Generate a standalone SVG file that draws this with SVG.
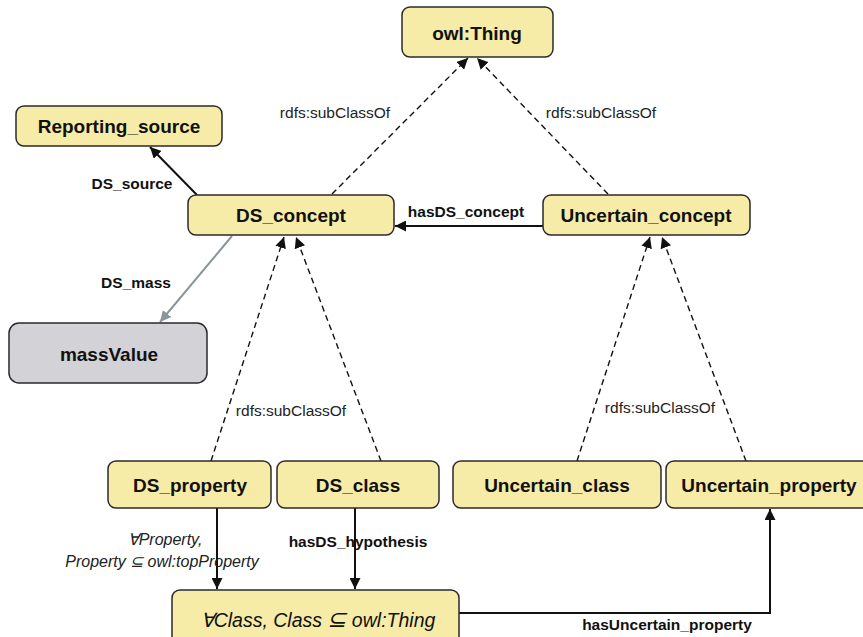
<svg xmlns="http://www.w3.org/2000/svg" width="863" height="637" viewBox="0 0 863 637">
<defs>
<marker id="ah" viewBox="0 0 10 10" refX="10" refY="5" markerWidth="11" markerHeight="11" markerUnits="userSpaceOnUse" orient="auto">
<path d="M0,0 L10,5 L0,10 Z" fill="#111"/>
</marker>
<marker id="ahg" viewBox="0 0 10 10" refX="10" refY="5" markerWidth="11" markerHeight="11" markerUnits="userSpaceOnUse" orient="auto">
<path d="M0,0 L10,5 L0,10 Z" fill="#8a969b"/>
</marker>
<style>
.node rect{fill:#f6eca8;stroke:#2a2a2a;stroke-width:1.5}
.node.gray rect{fill:#d2d2d7}
.nl{font-family:"Liberation Sans",Arial,sans-serif;font-weight:bold;font-size:19px;fill:#111;text-anchor:middle}
.dash{fill:none;stroke:#111;stroke-width:1.4;stroke-dasharray:6 4;marker-end:url(#ah)}
.solid{fill:none;stroke:#111;stroke-width:2;marker-end:url(#ah)}
.grayl{fill:none;stroke:#8a969b;stroke-width:2;marker-end:url(#ahg)}
.el{font-family:"Liberation Sans",Arial,sans-serif;font-size:15.5px;fill:#222;text-anchor:middle}
.eb{font-family:"Liberation Sans",Arial,sans-serif;font-size:15.5px;font-weight:bold;fill:#111;text-anchor:middle}
.ei{font-family:"Liberation Sans",Arial,sans-serif;font-size:16px;font-style:italic;fill:#222;text-anchor:middle}
</style>
</defs>
<rect width="863" height="637" fill="#fff"/>
<g id="connectors">
<path class="dash" d="M332,194 L468,58"/>
<path class="dash" d="M608,194 L477,58"/>
<path class="solid" d="M197,195 L150,147"/>
<path class="solid" d="M543,226 L395,226"/>
<path class="grayl" d="M232,236 L160,322"/>
<path class="dash" d="M211,461 L284,237"/>
<path class="dash" d="M381,461 L296,237"/>
<path class="dash" d="M577,461 L650,237"/>
<path class="dash" d="M746,461 L662,237"/>
<path class="solid" d="M217,508 L217,589"/>
<path class="solid" d="M355,508 L355,589"/>
<path class="solid" d="M459,613 L770,613 L770,509"/>
<text class="el" x="335" y="118">rdfs:subClassOf</text>
<text class="el" x="601" y="118">rdfs:subClassOf</text>
<text class="eb" x="132" y="189">DS_source</text>
<text class="eb" x="466" y="217">hasDS_concept</text>
<text class="eb" x="136" y="288">DS_mass</text>
<text class="el" x="291" y="416">rdfs:subClassOf</text>
<text class="el" x="660" y="413">rdfs:subClassOf</text>
<text class="ei" x="165" y="545">∀Property,</text>
<text class="ei" x="162" y="567">Property  ⊆ owl:topProperty</text>
<text class="eb" x="358" y="547">hasDS_hypothesis</text>
<text class="eb" x="667" y="630">hasUncertain_property</text>
</g>
<g id="owl_thing" class="node"><rect x="402" y="7" width="151" height="50" rx="8"/><text class="nl" x="477" y="40">owl:Thing</text></g>
<g id="reporting_source" class="node"><rect x="16" y="106" width="206" height="40" rx="8"/><text class="nl" x="119" y="133">Reporting_source</text></g>
<g id="ds_concept" class="node"><rect x="188" y="195" width="206" height="40" rx="8"/><text class="nl" x="291" y="222">DS_concept</text></g>
<g id="uncertain_concept" class="node"><rect x="543" y="195" width="207" height="40" rx="8"/><text class="nl" x="646" y="222">Uncertain_concept</text></g>
<g id="massvalue" class="node gray"><rect x="9" y="323" width="198" height="60" rx="10"/><text class="nl" x="109" y="361">massValue</text></g>
<g id="ds_property" class="node"><rect x="108" y="461" width="163" height="47" rx="8"/><text class="nl" x="190" y="492">DS_property</text></g>
<g id="ds_class" class="node"><rect x="277" y="461" width="162" height="47" rx="8"/><text class="nl" x="358" y="492">DS_class</text></g>
<g id="uncertain_class" class="node"><rect x="453" y="461" width="208" height="47" rx="8"/><text class="nl" x="557" y="492">Uncertain_class</text></g>
<g id="uncertain_property" class="node"><rect x="666" y="461" width="206" height="47" rx="8"/><text class="nl" x="769" y="492">Uncertain_property</text></g>
<g id="any_class" class="node"><rect x="172" y="590" width="287" height="60" rx="8"/><text class="nl" x="318" y="627" style="font-weight:normal;font-style:italic;font-size:19.5px">∀Class, Class <tspan style="font-size:23px">⊆</tspan> owl:Thing</text></g>
</svg>
